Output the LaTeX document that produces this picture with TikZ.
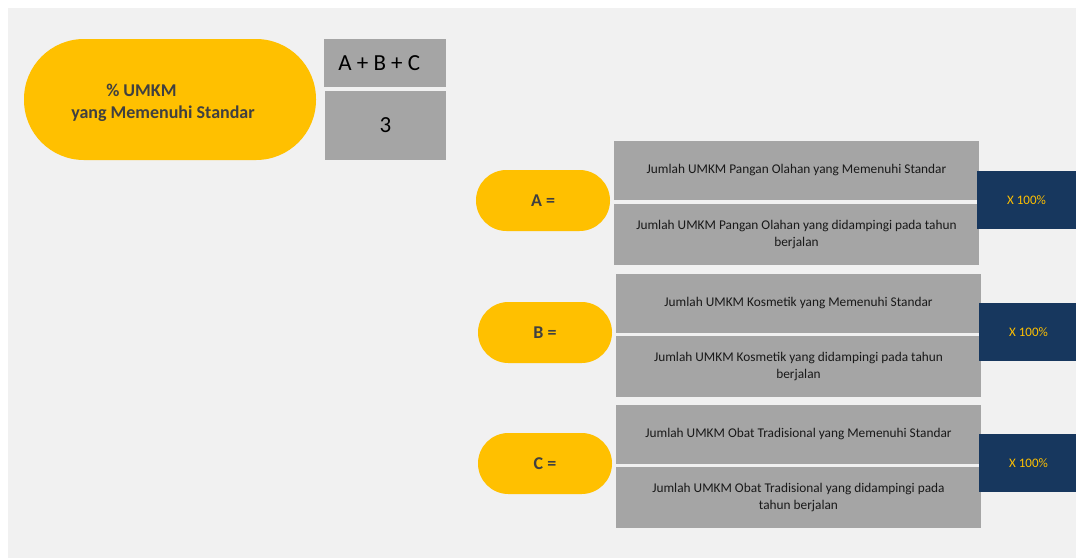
\documentclass[tikz,border=0pt]{standalone}
\usepackage{fontspec}
\setmainfont{Carlito}

\definecolor{bgGray}{HTML}{F1F1F1}
\definecolor{pillGold}{HTML}{FFC000}
\definecolor{boxGray}{HTML}{A5A5A5}
\definecolor{navyBox}{HTML}{17375E}
\definecolor{labelGray}{HTML}{404040}

\begin{document}
\begin{tikzpicture}[x=0.75pt,y=0.75pt,yscale=-1,xscale=1,
	pill/.style={fill=pillGold, text=labelGray, font=\bfseries\fontsize{13.5}{16}\selectfont, inner sep=0pt, outer sep=0pt, rounded corners=22.8pt, minimum width=100.5pt, minimum height=45.75pt, anchor=north west},
	fracbox/.style={fill=boxGray, text=black!90, font=\fontsize{10}{12.5}\selectfont, align=center, inner sep=0pt, outer sep=0pt, minimum width=273.75pt, anchor=north west},
	pctbox/.style={fill=navyBox, text=pillGold, font=\fontsize{9.75}{12}\selectfont, inner sep=0pt, outer sep=0pt, minimum width=74.25pt, minimum height=43.5pt, anchor=north west}]

	%%BACKGROUND--------------------------------------------
	\useasboundingbox (0,0) rectangle (1076,558);
	\fill [color=bgGray] (8,8) rectangle (1076,558);

	%%MAIN FORMULA------------------------------------------
	\node [pill, minimum width=219pt, minimum height=90.75pt, rounded corners=45pt] (mainPill) at (24,39) {};
	% Text Node
	\node [text=labelGray, font=\bfseries\fontsize{13.5}{16.5}\selectfont, align=center, inner sep=0.75pt] (mainLabel) at (163,103) {\% UMKM\hspace*{2.4em}\\yang Memenuhi Standar};

	\node [fill=boxGray, inner sep=0pt, outer sep=0pt, minimum width=91.5pt, minimum height=36pt, anchor=north west, font=\fontsize{17.25}{20}\selectfont] (sumNum) at (324,39) {\raisebox{-2pt}{A + B + C}\hspace*{0.5em}};
	\node [fill=boxGray, inner sep=0pt, outer sep=0pt, minimum width=90.75pt, minimum height=51.75pt, anchor=north west, font=\fontsize{17.25}{20}\selectfont] (sumDen) at (325,91) {\raisebox{-1.5pt}{3}};

	%%ROW A-------------------------------------------------
	\node [pill] (pillA) at (476,170) {\raisebox{-1pt}{A =}};
	\node [fracbox, minimum height=44.25pt] (numA) at (614,141) {\raisebox{-2pt}{Jumlah UMKM Pangan Olahan yang Memenuhi Standar}};
	\node [fracbox, minimum height=45.75pt] (denA) at (614,204) {Jumlah UMKM Pangan Olahan yang didampingi pada tahun\\berjalan};
	\node [pctbox] (pctA) at (977,171) {X 100\%};

	%%ROW B-------------------------------------------------
	\node [pill] (pillB) at (478,302) {\raisebox{-1pt}{B =}};
	\node [fracbox, minimum height=44.25pt] (numB) at (616,274) {\raisebox{-2pt}{Jumlah UMKM Kosmetik yang Memenuhi Standar}};
	\node [fracbox, minimum height=45.75pt] (denB) at (616,336) {Jumlah UMKM Kosmetik yang didampingi pada tahun\\berjalan};
	\node [pctbox] (pctB) at (979,303) {X 100\%};

	%%ROW C-------------------------------------------------
	\node [pill] (pillC) at (478,433) {\raisebox{-1pt}{C =}};
	\node [fracbox, minimum height=44.25pt] (numC) at (616,405) {\raisebox{-2pt}{Jumlah UMKM Obat Tradisional yang Memenuhi Standar}};
	\node [fracbox, minimum height=45.75pt] (denC) at (616,467) {Jumlah UMKM Obat Tradisional yang didampingi pada\\tahun berjalan};
	\node [pctbox] (pctC) at (979,434) {X 100\%};

\end{tikzpicture}
\end{document}
